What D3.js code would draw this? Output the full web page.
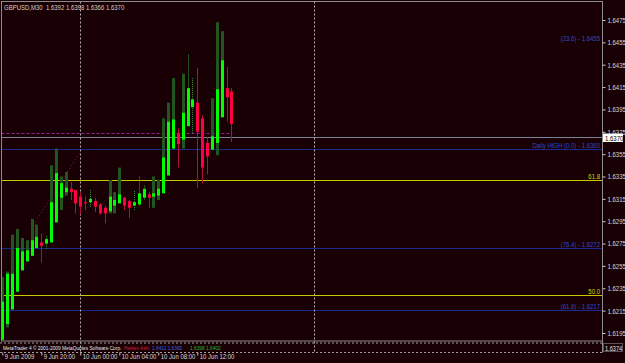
<!DOCTYPE html>
<html><head><meta charset="utf-8">
<script src="https://cdn.jsdelivr.net/npm/d3@7"></script>
<style>html,body{margin:0;padding:0;background:#180005;overflow:hidden}</style>
</head><body><svg id="c" width="625" height="363"></svg>
<script>
// ---- data ----
const haOpen = [1.6189,1.6203,1.6216,1.6232,1.6251,1.6259,1.6264,1.6271,1.6276,1.6275,
  1.6276,1.6294,1.6316,1.6321,1.6324,1.6323,1.6317,1.6312,1.6312,1.6313,
  1.6310,1.6307,1.6304,1.6309,1.6311,1.6316,1.6313,1.6309,1.6310,1.6316,
  1.6319,1.6317,1.6318,1.6320,1.6336,1.6360,1.6374,1.6368,1.6380,1.6397,
  1.6401,1.6387,1.6365,1.6359,1.6365,1.6388,1.6414,1.6411];
const haClose = [1.6223,1.6248,1.6248,1.6271,1.6268,1.6269,1.6278,1.6281,1.6273,1.6279,
  1.6312,1.6338,1.6329,1.6325,1.6321,1.6311,1.6308,1.6311,1.6315,1.6308,
  1.6302,1.6302,1.6317,1.6314,1.6319,1.6309,1.6307,1.6312,1.6320,1.6324,
  1.6316,1.6320,1.6324,1.6352,1.6384,1.6386,1.6364,1.6392,1.6414,1.6404,
  1.6375,1.6343,1.6353,1.6371,1.6413,1.6439,1.6406,1.6382];
const wickHigh = [null,null,null,null,null,null,null,null,1.6284,1.6282,
  null,null,null,null,1.6330,1.6323,1.6321,1.6317,1.6323,1.6316,
  1.6311,1.6309,null,null,null,1.6317,1.6314,1.6322,1.6335,1.6327,
  1.6321,null,null,null,null,null,1.6378,null,1.6444,1.6423,
  1.6432,1.6390,1.6370,null,null,null,1.6433,1.6414];
const wickLow = [null,null,null,null,null,null,null,null,1.6258,1.6270,
  null,null,null,null,1.6314,1.6302,1.6301,1.6305,1.6307,1.6303,
  1.6301,1.6293,null,null,null,1.6305,1.6298,1.6305,1.6309,1.6314,
  1.6307,null,null,null,null,null,1.6343,null,1.6380,1.6374,
  1.6325,1.6329,1.6337,null,null,null,1.6384,1.6366];
const shadeHigh = [1.6245,1.6250,1.6283,1.6288,1.6280,1.6278,1.6297,1.6292,null,null,
  1.6345,1.6360,1.6335,1.6339,null,null,null,null,null,null,
  null,null,1.6332,1.6321,1.6343,null,null,null,null,null,
  null,1.6335,1.6332,1.6387,1.6401,1.6423,null,1.6427,null,null,
  null,null,null,1.6405,1.6473,1.6465,null,null];
const shadeLow = [1.6189,1.6200,1.6225,1.6232,1.6260,1.6262,1.6269,1.6274,null,null,
  1.6287,1.6294,1.6305,1.6318,null,null,null,null,null,null,
  null,null,1.6302,1.6302,1.6311,null,null,null,null,null,
  null,1.6307,1.6314,1.6320,1.6336,1.6360,null,1.6360,null,null,
  null,null,null,1.6360,1.6354,1.6388,null,null];

const priceTicks = [1.6475,1.6455,1.6435,1.6415,1.6395,1.6375,1.6355,1.6335,1.6315,1.6295,1.6275,1.6255,1.6235,1.6215,1.6195];
const timeTickBars = [0,8,16,24,32,40];
const timeTickLabels = ["9 Jun 2009","9 Jun 20:00","10 Jun 00:00","10 Jun 04:00","10 Jun 08:00","10 Jun 12:00"];
const separatorBars = [16,64];
const titleText = "GBPUSD,M30  1.6392 1.6398 1.6366 1.6370";
const lastPrice = 1.6370;
const askLevel = 1.6374;
const subValue = "1.6374";
const trendFrom = {bar:6, price:1.6289};
const trendTo = {bar:16, price:1.6357};

const levelValues = [1.6455, 1.6360, 1.6332, 1.6271, 1.6229, 1.6216];
const levelLabels = ["(23.6) - 1.6455", "Daily HIGH (0.0) - 1.6360", "61.8", "(76.4) - 1.6272", "50.0", "(61.8) - 1.6217"];
const levelKinds = ["blue","blue","yellow","blue","yellow","blue"];
const footerText = "MetaTrader 4 © 2001-2009 MetaQuotes Software Corp.";
const footerExtras = ["Heiken Ashi", "1.6411 1.6382", "1.6398 1.6402"];

(function(){
const svg = d3.select("#c");
const W = 625, H = 363;
const fL = 1.5, fR = 602.5, fT = 1.5, fB = 341;
const subTop = 343, subBottom = 352.5;
const FONT = "'Liberation Sans',Arial,sans-serif";
const SX = 0.8;

svg.append("rect").attr("width",W).attr("height",H).attr("fill","#180005");

const x = d3.scaleLinear().domain([0,120]).range([2.3, 2.3+4.875*120]);
const y = d3.scaleLinear().domain([1.6195,1.6475]).range([333,20]);
const px = i => Math.round(x(i));

function label(g, tx, ty, str, size, fill, anchor){
  return g.append("text").attr("transform",`translate(${tx},${ty}) scale(${SX},1)`)
    .attr("font-family",FONT).attr("font-size",size).attr("fill",fill)
    .attr("text-anchor",anchor||"start").style("white-space","pre").text(str);
}

const colors = {blue:"#1b2a8e", yellow:"#c8c800"};
const plot = svg.append("g");

levelValues.forEach((v,i)=>{
  if (i===0) return;
  plot.append("line").attr("x1",fL).attr("x2",fR)
    .attr("y1",Math.round(y(v))+0.5).attr("y2",Math.round(y(v))+0.5)
    .attr("stroke",colors[levelKinds[i]]).attr("stroke-width",1);
});
plot.append("line").attr("x1",fL).attr("x2",fR)
  .attr("y1",Math.round(y(lastPrice))+0.5).attr("y2",Math.round(y(lastPrice))+0.5)
  .attr("stroke","#7a8494").attr("stroke-width",1);
plot.append("line").attr("x1",fL).attr("x2",x(47)+1)
  .attr("y1",Math.round(y(askLevel))+0.5).attr("y2",Math.round(y(askLevel))+0.5)
  .attr("stroke","#9a1a9a").attr("stroke-width",1).attr("stroke-dasharray","3,2");

separatorBars.forEach(b=>{
  plot.append("line").attr("x1",px(b)+0.5).attr("x2",px(b)+0.5)
    .attr("y1",fT).attr("y2",subBottom)
    .attr("stroke","#b4b4b4").attr("stroke-width",1).attr("stroke-dasharray","2,2");
});

plot.append("line").attr("x1",x(trendFrom.bar)).attr("y1",y(trendFrom.price))
  .attr("x2",x(trendTo.bar)).attr("y2",y(trendTo.price))
  .attr("stroke","#9a0024").attr("stroke-width",1).attr("stroke-dasharray","1.5,2");

const idx = d3.range(haOpen.length);
plot.selectAll("rect.shade").data(idx.filter(i=>shadeHigh[i]!=null)).join("rect")
  .attr("class","shade")
  .attr("x",i=>px(i)-1).attr("width",3)
  .attr("y",i=>y(shadeHigh[i])).attr("height",i=>y(shadeLow[i])-y(shadeHigh[i]))
  .attr("fill","#22561f");
plot.selectAll("line.wick").data(idx.filter(i=>wickHigh[i]!=null)).join("line")
  .attr("class","wick")
  .attr("x1",i=>px(i)+0.5).attr("x2",i=>px(i)+0.5)
  .attr("y1",i=>y(wickHigh[i])).attr("y2",i=>y(wickLow[i]))
  .attr("stroke",i=>haClose[i]>=haOpen[i]?"#2f9a2f":"#b0103e")
  .attr("stroke-width",1)
  .attr("stroke-dasharray",i=>haClose[i]>=haOpen[i]?"1,1":null);
plot.selectAll("rect.body").data(idx).join("rect")
  .attr("class","body")
  .attr("x",i=>px(i)-1).attr("width",3)
  .attr("y",i=>y(Math.max(haOpen[i],haClose[i])))
  .attr("height",i=>Math.max(1,Math.abs(y(haOpen[i])-y(haClose[i]))))
  .attr("fill",i=>haClose[i]>=haOpen[i]?"#00ff00":"#ff0040");

levelValues.forEach((v,i)=>{
  label(plot, 600, Math.round(y(v))-1, levelLabels[i], 7.5,
    levelKinds[i]==="blue"?"#3448c8":"#d8d800", "end");
});

svg.append("rect").attr("x",fL).attr("y",fT).attr("width",fR-fL).attr("height",fB-fT)
  .attr("fill","none").attr("stroke","#8c8c8c").attr("stroke-width",1);
svg.append("line").attr("x1",0).attr("x2",fR).attr("y1",subTop).attr("y2",subTop)
  .attr("stroke","#a0a0a0").attr("stroke-dasharray","2,2");
svg.append("line").attr("x1",0).attr("x2",fR).attr("y1",subBottom).attr("y2",subBottom)
  .attr("stroke","#a0a0a0").attr("stroke-dasharray","2,2");
svg.append("line").attr("x1",fR).attr("x2",fR).attr("y1",fB).attr("y2",subBottom)
  .attr("stroke","#8c8c8c");

// footer text in the sub window
label(svg, 3, 350, footerText, 6, "#e8e8e8");
label(svg, 124, 350, footerExtras[0], 6, "#d02040");
label(svg, 152, 350, footerExtras[1], 6, "#4060e0");
label(svg, 190, 350, footerExtras[2], 6, "#30b030");
svg.append("rect").attr("x",603.5).attr("y",343.5).attr("width",19).attr("height",8)
  .attr("fill","none").attr("stroke","#a0a0a0").attr("stroke-dasharray","1,1");
label(svg, 605, 350.5, subValue, 7, "#e8e8e8");

// title
label(svg, 4, 10, titleText, 7.5, "#d0d0d0");

// right price axis
const ay = svg.append("g").attr("transform",`translate(${fR},0)`)
  .call(d3.axisRight(y).tickValues(priceTicks).tickSize(3).tickPadding(2).tickFormat(d3.format(".4f")));
ay.select(".domain").remove();
ay.selectAll("line").attr("stroke","#c8c8c8");
ay.selectAll("text").attr("fill","#d8d8d8").attr("font-family",FONT).attr("font-size",7.5)
  .attr("transform",`scale(${SX},1)`).attr("x",5/SX);

const ly = Math.round(y(lastPrice));
svg.append("rect").attr("x",603).attr("y",ly-3.5).attr("width",20).attr("height",8.5).attr("fill","#ffffff");
label(svg, 605, ly+3.5, d3.format(".4f")(lastPrice), 7.5, "#000000");

// bottom time axis
const ax = svg.append("g").attr("transform",`translate(0,${subBottom})`)
  .call(d3.axisBottom(x).tickValues(timeTickBars).tickSize(3).tickFormat((d,i)=>timeTickLabels[i]));
ax.select(".domain").remove();
ax.selectAll("line").attr("stroke","#c8c8c8");
ax.selectAll("text").attr("fill","#d8d8d8").attr("font-family",FONT).attr("font-size",7.5)
  .attr("text-anchor","start").attr("x",2/SX).attr("dy",0.3)
  .attr("transform",`scale(${SX},1)`);
})();
</script></body></html>
